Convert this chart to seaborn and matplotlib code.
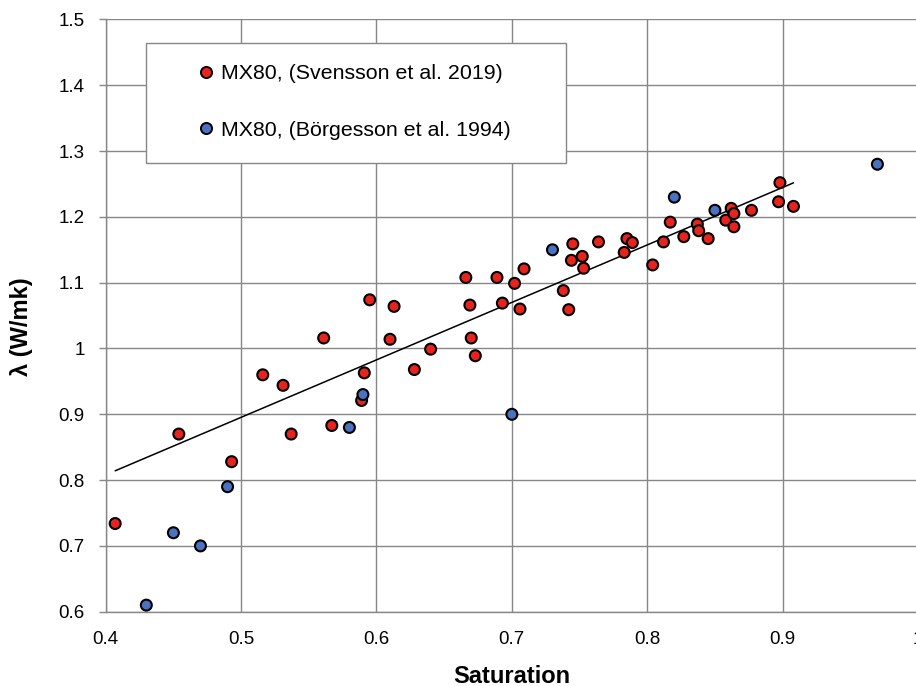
import matplotlib
matplotlib.use("Agg")
import matplotlib.pyplot as plt
from matplotlib.lines import Line2D
from matplotlib.patches import Rectangle
import numpy as np
import pandas as pd
import seaborn as sns

# Thermal conductivity of MX80 bentonite against degree of saturation
svensson_sat = [0.407, 0.454, 0.493, 0.516, 0.531, 0.537, 0.561, 0.567, 0.589, 0.591,
                0.595, 0.610, 0.613, 0.628, 0.640, 0.666, 0.669, 0.670, 0.673, 0.689,
                0.693, 0.702, 0.706, 0.709, 0.738, 0.742, 0.744, 0.745, 0.752, 0.753,
                0.764, 0.783, 0.785, 0.789, 0.804, 0.812, 0.817, 0.827, 0.837, 0.838,
                0.845, 0.858, 0.862, 0.864, 0.864, 0.877, 0.898, 0.897, 0.908]
svensson_lam = [0.734, 0.870, 0.828, 0.960, 0.944, 0.870, 1.016, 0.883, 0.921, 0.963,
                1.074, 1.014, 1.064, 0.968, 0.999, 1.108, 1.066, 1.016, 0.989, 1.108,
                1.069, 1.099, 1.060, 1.121, 1.088, 1.059, 1.134, 1.159, 1.140, 1.122,
                1.162, 1.146, 1.167, 1.161, 1.127, 1.162, 1.192, 1.170, 1.189, 1.179,
                1.167, 1.195, 1.213, 1.205, 1.185, 1.210, 1.252, 1.223, 1.216]

borgesson_sat = [0.43, 0.45, 0.47, 0.49, 0.58, 0.59, 0.70, 0.73, 0.82, 0.85, 0.97]
borgesson_lam = [0.61, 0.72, 0.70, 0.79, 0.88, 0.93, 0.90, 1.15, 1.23, 1.21, 1.28]

series_labels = ["MX80, (Svensson et al. 2019)", "MX80, (Börgesson et al. 1994)"]
series_colors = ["#E8231E", "#4A72C0"]

x_ticks = [0.4, 0.5, 0.6, 0.7, 0.8, 0.9, 1.0]
x_tick_labels = ["0.4", "0.5", "0.6", "0.7", "0.8", "0.9", "1"]
y_ticks = [0.6, 0.7, 0.8, 0.9, 1.0, 1.1, 1.2, 1.3, 1.4, 1.5]
y_tick_labels = ["0.6", "0.7", "0.8", "0.9", "1", "1.1", "1.2", "1.3", "1.4", "1.5"]

df = pd.DataFrame({
    "Saturation": svensson_sat + borgesson_sat,
    "lambda": svensson_lam + borgesson_lam,
    "source": [series_labels[0]] * len(svensson_sat) + [series_labels[1]] * len(borgesson_sat),
})

sns.set_theme(style="white")
plt.rcParams["font.family"] = ["Liberation Sans", "DejaVu Sans"]
plt.rcParams["text.color"] = "black"
plt.rcParams["axes.labelcolor"] = "black"
plt.rcParams["xtick.color"] = "black"
plt.rcParams["ytick.color"] = "black"

fig = plt.figure(figsize=(9.16, 6.86), dpi=100)
ax = fig.add_axes([0.1154, 0.1083, 0.8868, 0.8633])

grid_color = "#878787"
ax.set_axisbelow(True)
ax.grid(True, color=grid_color, linewidth=1.0)

# linear trend through the Svensson data
sns.regplot(data=df[df["source"] == series_labels[0]], x="Saturation", y="lambda",
            scatter=False, ci=None, truncate=True, ax=ax,
            line_kws=dict(color="black", linewidth=1.1, zorder=2))

sns.scatterplot(data=df, x="Saturation", y="lambda", hue="source",
                hue_order=series_labels, palette=series_colors,
                s=62, edgecolor="black", linewidth=1.5, legend=False, ax=ax, zorder=3)

ax.set_xlim(0.4, 1.0)
ax.set_ylim(0.6, 1.5)
ax.set_xticks(x_ticks)
ax.set_xticklabels(x_tick_labels)
ax.set_yticks(y_ticks)
ax.set_yticklabels(y_tick_labels)
ax.tick_params(axis="x", length=0, pad=14, labelsize=13.5, labelcolor="black")
ax.tick_params(axis="y", length=5, width=1, color=grid_color, pad=10, labelsize=13.5,
               labelcolor="black", left=True)
for side in ["top", "right"]:
    ax.spines[side].set_visible(False)
for side in ["left", "bottom"]:
    ax.spines[side].set_color(grid_color)
    ax.spines[side].set_linewidth(1.0)

ax.set_xlabel("Saturation", fontsize=17, fontweight="bold", labelpad=12)
ax.set_ylabel("λ (W/mk)", fontsize=17, fontweight="bold")
ax.yaxis.set_label_coords(-0.0895, 0.482)

# legend box
ax.add_patch(Rectangle((0.0496, 0.7577), 0.5171, 0.2026, transform=ax.transAxes,
                       facecolor="white", edgecolor=grid_color, linewidth=1.0,
                       zorder=4, clip_on=False))
handles = [Line2D([], [], linestyle="none", marker="o", markersize=8,
                  markerfacecolor=c, markeredgecolor="black", markeredgewidth=1.4)
           for c in series_colors]
leg = ax.legend(handles, series_labels, loc="center left",
                bbox_to_anchor=((197 - 105.7) / 812.3, (611.7 - 102) / 592.2),
                frameon=False, fontsize=15.4, handlelength=0.8, handletextpad=0.3,
                borderpad=0, borderaxespad=0, labelspacing=1.75)
leg.set_zorder(5)

fig.savefig("out.png", dpi=100)
